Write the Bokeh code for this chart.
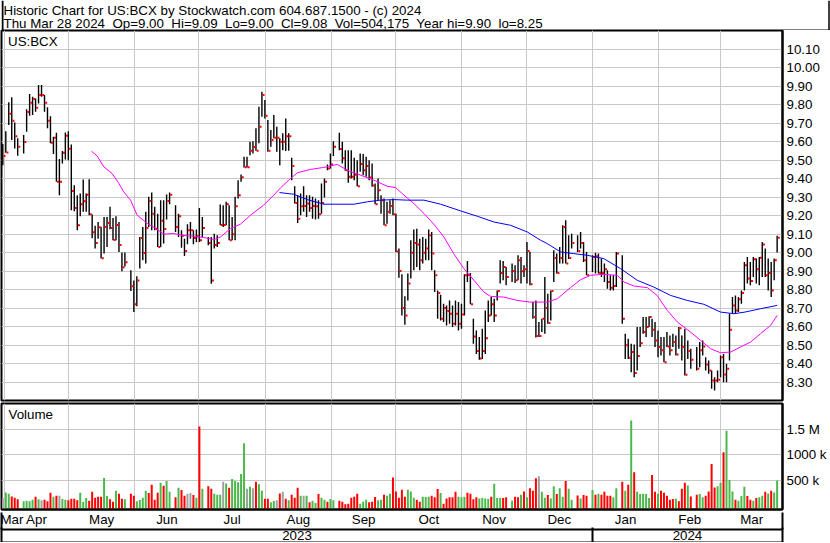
import pandas as pd
from bokeh.plotting import figure
from bokeh.layouts import column
from bokeh.models import ColumnDataSource, FixedTicker, LinearAxis, Range1d, Label, Span
from bokeh.transform import dodge
from bokeh.embed import file_html
from bokeh.resources import INLINE

# ---------------------------------------------------------------- data
FIRST_DAY = "2023-03-30"
LAST_DAY = "2024-03-28"
HEADER_1 = "Historic Chart for US:BCX by Stockwatch.com 604.687.1500 - (c) 2024"
HEADER_2 = "Thu Mar 28 2024  Op=9.00  Hi=9.09  Lo=9.00  Cl=9.08  Vol=504,175  Year hi=9.90  lo=8.25"
SYMBOL = "US:BCX"

PRICE_TICKS = [8.30, 8.40, 8.50, 8.60, 8.70, 8.80, 8.90, 9.00, 9.10, 9.20,
               9.30, 9.40, 9.50, 9.60, 9.70, 9.80, 9.90, 10.00, 10.10]
VOLUME_TICKS = [500000, 1000000, 1500000]
VOLUME_TICK_LABELS = ["500 k", "1000 k", "1.5 M"]
MONTH_NAMES = ["Jan", "Feb", "Mar", "Apr", "May", "Jun",
               "Jul", "Aug", "Sep", "Oct", "Nov", "Dec"]

# one entry per weekday from FIRST_DAY to LAST_DAY, None = market holiday
HIGH = [
    9.586, 9.656, 9.812, 9.839, 9.703, 9.617, None, 9.635, 9.775, 9.857,
    9.842, 9.833, 9.905, 9.905, 9.851, 9.785, 9.737, 9.626, 9.647, 9.505,
    9.548, 9.649, 9.656, 9.584, 9.364, 9.310, 9.319, 9.395, 9.319, 9.396,
    9.205, 9.144, 9.165, 9.138, 9.192, 9.192, 9.247, 9.187, 9.196, 9.165,
    9.000, 9.000, None, 8.904, 8.849, 8.871, 9.084, 9.138, 9.220, 9.301,
    9.324, 9.247, 9.210, 9.283, 9.283, 9.313, 9.324, None, 9.256, 9.210,
    9.120, 9.075, 9.153, 9.165, 9.120, 9.124, 9.241, 9.192, None, 9.084,
    9.084, 9.102, 9.093, 9.259, 9.256, 9.274, 9.256, 9.192, 9.301, 9.391,
    9.422, 9.517, 9.517, 9.599, 9.602, 9.671, 9.788, 9.869, 9.824, 9.716,
    9.662, 9.743, 9.680, 9.617, 9.644, 9.725, 9.644, 9.512, 9.358, 9.310,
    9.319, 9.358, 9.310, 9.310, 9.301, 9.292, 9.283, 9.373, 9.400, 9.476,
    9.535, 9.602, None, 9.647, 9.599, 9.553, 9.553, 9.553, 9.512, 9.499,
    9.535, 9.532, 9.517, 9.499, 9.481, 9.373, 9.400, 9.310, 9.292, 9.274,
    9.283, 9.292, 9.210, 9.021, 8.882, 8.763, 8.886, 9.066, 9.124, 9.129,
    9.075, 9.084, 9.075, 9.124, 9.111, 8.904, 8.795, 8.772, 8.723, 8.714,
    8.741, 8.714, 8.741, 8.732, 8.723, 8.882, 8.954, 8.889, 8.642, 8.579,
    8.543, 8.588, 8.687, 8.741, 8.759, 8.750, 8.795, 8.958, 8.954, 8.922,
    None, 8.940, 8.931, 8.985, 8.976, 8.931, 9.057, 9.003, 8.732, 8.740,
    8.624, 8.642, 8.868, 8.777, 8.795, 9.012, 8.994, 9.030, 9.147, 9.175,
    9.093, 9.102, None, 9.093, 9.111, 9.057, 9.003, None, 8.985, 8.998,
    8.994, 8.967, 8.940, 8.904, 8.877, 8.877, 9.003, None, 8.985, 8.561,
    8.534, 8.507, 8.503, 8.597, 8.597, 8.651, 8.651, 8.655, 8.642, 8.624,
    8.579, 8.543, 8.543, 8.570, 8.552, 8.561, 8.552, 8.597, 8.552, 8.588,
    8.525, 8.480, None, 8.489, 8.516, 8.525, 8.434, 8.416, 8.362, 8.326,
    8.362, 8.443, 8.452, 8.398, 8.669, 8.759, 8.768, 8.759, 8.795, 8.949,
    8.976, 8.949, 8.976, 8.967, 8.976, 9.057, 9.021, 8.967, 8.949, 8.967, 9.090,
]
LOW = [
    9.472, 9.539, 9.689, 9.608, 9.562, 9.523, None, 9.535, 9.653, 9.739,
    9.743, 9.761, 9.806, 9.842, 9.761, 9.671, 9.590, 9.532, 9.382, 9.310,
    9.481, 9.503, 9.499, 9.228, 9.223, 9.120, 9.196, 9.220, 9.220, 9.202,
    9.077, 9.021, 9.075, 8.967, 8.994, 9.030, 9.126, 9.066, 9.066, 9.003,
    8.898, 8.925, None, 8.792, 8.678, 8.709, 8.913, 8.958, 8.940, 9.138,
    9.120, 9.120, 9.030, 9.030, 9.048, 9.178, 9.261, None, 9.111, 9.084,
    9.026, 8.981, 9.044, 9.075, 9.044, 9.055, 9.057, 9.084, None, 9.039,
    8.831, 9.021, 9.030, 9.147, 9.138, 9.147, 9.066, 9.066, 9.066, 9.292,
    9.382, 9.460, 9.460, 9.526, 9.535, 9.550, 9.590, 9.734, 9.725, 9.544,
    9.571, 9.617, 9.544, 9.472, 9.553, 9.548, 9.550, 9.391, 9.265, 9.160,
    9.201, 9.220, 9.192, 9.220, 9.183, 9.178, 9.183, 9.210, 9.297, 9.445,
    9.454, 9.521, None, 9.553, 9.481, 9.442, 9.377, 9.400, 9.391, 9.358,
    9.436, 9.418, 9.409, 9.391, 9.355, 9.261, 9.283, 9.210, 9.147, 9.156,
    9.210, 9.201, 9.003, 8.864, 8.660, 8.610, 8.741, 8.859, 8.904, 8.922,
    8.904, 8.940, 8.958, 8.958, 8.904, 8.786, 8.642, 8.633, 8.624, 8.606,
    8.615, 8.597, 8.606, 8.579, 8.588, 8.660, 8.841, 8.720, 8.507, 8.452,
    8.420, 8.425, 8.452, 8.624, 8.660, 8.624, 8.741, 8.832, 8.850, 8.823,
    None, 8.841, 8.835, 8.850, 8.832, 8.868, 8.832, 8.823, 8.642, 8.540,
    8.543, 8.570, 8.561, 8.615, 8.633, 8.841, 8.886, 8.940, 8.940, 8.940,
    8.965, 9.021, None, 9.003, 9.021, 8.949, 8.877, None, 8.895, 8.886,
    8.886, 8.868, 8.841, 8.804, 8.795, 8.795, 8.813, None, 8.615, 8.425,
    8.425, 8.353, 8.326, 8.362, 8.489, 8.561, 8.543, 8.597, 8.543, 8.489,
    8.434, 8.443, 8.407, 8.489, 8.443, 8.489, 8.443, 8.480, 8.416, 8.335,
    8.425, 8.371, None, 8.362, 8.380, 8.443, 8.362, 8.344, 8.263, 8.254,
    8.299, 8.326, 8.299, 8.299, 8.416, 8.669, 8.669, 8.678, 8.723, 8.795,
    8.832, 8.823, 8.868, 8.832, 8.823, 8.868, 8.868, 8.795, 8.759, 8.850, 9.000,
]
CLOSE = [
    9.521, 9.540, 9.750, 9.712, 9.629, 9.571, None, 9.597, 9.759, 9.810,
    9.830, 9.783, 9.851, 9.851, 9.810, 9.712, 9.593, 9.620, 9.382, 9.382,
    9.539, 9.631, 9.561, 9.333, 9.241, 9.147, 9.261, 9.277, 9.312, 9.207,
    9.109, 9.052, 9.136, 8.969, 9.138, 9.160, 9.133, 9.068, 9.149, 9.041,
    8.920, 8.947, None, 8.817, 8.720, 8.849, 9.079, 8.997, 9.133, 9.279,
    9.209, 9.129, 9.030, 9.171, 9.127, 9.279, 9.312, None, 9.138, 9.196,
    9.091, 9.008, 9.120, 9.120, 9.079, 9.088, 9.066, 9.133, None, 9.052,
    8.849, 9.041, 9.052, 9.149, 9.149, 9.261, 9.066, 9.099, 9.250, 9.310,
    9.407, 9.461, 9.461, 9.550, 9.570, 9.550, 9.680, 9.851, 9.739, 9.550,
    9.608, 9.620, 9.620, 9.599, 9.599, 9.629, 9.629, 9.467, 9.268, 9.183,
    9.250, 9.252, 9.265, 9.241, 9.252, 9.250, 9.207, 9.268, 9.382, 9.454,
    9.476, 9.571, None, 9.559, 9.510, 9.445, 9.409, 9.409, 9.420, 9.358,
    9.478, 9.445, 9.467, 9.405, 9.362, 9.261, 9.337, 9.283, 9.147, 9.220,
    9.252, 9.207, 9.006, 8.900, 8.700, 8.660, 8.832, 8.998, 9.052, 9.043,
    8.958, 8.998, 9.021, 9.093, 8.994, 8.877, 8.781, 8.642, 8.700, 8.684,
    8.669, 8.615, 8.669, 8.615, 8.665, 8.877, 8.878, 8.720, 8.546, 8.467,
    8.427, 8.467, 8.537, 8.660, 8.720, 8.660, 8.792, 8.889, 8.922, 8.868,
    None, 8.900, 8.850, 8.958, 8.898, 8.909, 9.008, 8.828, 8.651, 8.548,
    8.548, 8.642, 8.700, 8.619, 8.792, 8.970, 8.889, 8.970, 9.138, 8.940,
    8.970, 9.052, None, 9.008, 9.052, 8.958, 8.877, None, 8.976, 8.980,
    8.889, 8.889, 8.909, 8.841, 8.810, 8.819, 8.994, None, 8.642, 8.498,
    8.431, 8.462, 8.348, 8.440, 8.510, 8.570, 8.597, 8.651, 8.582, 8.525,
    8.489, 8.471, 8.407, 8.492, 8.471, 8.516, 8.449, 8.591, 8.489, 8.339,
    8.467, 8.420, None, 8.371, 8.471, 8.492, 8.395, 8.362, 8.308, 8.308,
    8.312, 8.434, 8.341, 8.371, 8.582, 8.714, 8.687, 8.747, 8.781, 8.931,
    8.859, 8.846, 8.963, 8.909, 8.972, 9.043, 8.877, 8.889, 8.795, 8.958, 9.080,
]
VOLUME_K = [
    163, 272, 246, 195, 169, 137, None, 99, 112, 99,
    131, 188, 137, 118, 131, 99, 265, 188, 208, 208,
    144, 131, 118, 150, 150, 118, 265, 92, 163, 112,
    285, 169, 188, 188, 554, 201, 137, 92, 304, 246,
    150, 137, None, 246, 208, 99, 124, 169, 304, 259,
    419, 131, 265, 458, 400, 496, 285, None, 176, 362,
    317, 208, 246, 259, 221, 169, 1553, 342, None, 394,
    342, 246, 227, 227, 477, 445, 362, 535, 496, 470,
    631, 1226, 342, 381, 355, 477, 432, 304, 150, 150,
    79, 105, 118, 253, 285, 150, 118, 227, 169, 362,
    208, 208, 208, 79, 112, 67, 240, 169, 131, 92,
    144, 118, None, 112, 92, 41, 54, 169, 188, 246,
    54, 92, 131, 79, 92, 182, 118, 131, 227, 208,
    246, 560, 291, 169, 323, 188, 323, 291, 169, 131,
    92, 188, 182, 188, 208, 176, 336, 259, 54, 156,
    176, 176, 285, 188, 176, 188, 265, 246, 137, 176,
    156, 163, 156, 150, 188, 438, 163, 163, 163, 176,
    None, 112, 188, 176, 227, 291, 176, 355, 304, 547,
    586, 285, 169, 221, 156, 394, 240, 355, 188, 496,
    342, 131, None, 214, 156, 221, 208, None, 317, 227,
    246, 227, 285, 208, 208, 176, 355, None, 477, 304,
    419, 1669, 665, 285, 240, 246, 240, 163, 612, 285,
    246, 304, 265, 208, 131, 144, 150, 99, 342, 458,
    406, 195, None, 227, 240, 176, 208, 291, 823, 368,
    394, 458, 1054, 1472, 515, 291, 131, 112, 201, 381,
    201, 131, 112, 163, 176, 208, 285, 253, 304, 272, 504.175,
]
# g = up day, r = down day, n = unchanged, - = holiday
DIRECTION = "".join([
    "nggrrr-ggg", "grgnrrrgrn", "ggrrrrgggr", "rrrrggrrgr", "rg-rrggggr",
    "rrrgrgg-rg", "rrnnrgrg-r", "rgggngrggg", "ggngnrggrr", "ggnrnrgrrr",
    "gngrggrggr", "gg-rrrrrrr", "gggrrrggrg", "grrrrrgggr", "rgggrrrgrr",
    "rrrgggrrrr", "ggggrgggrr", "-grrgrgrrr", "nggrggrggr", "gg-rgrr-gr",
    "grrrrgg-rg", "rgrgggggrr", "grrrrrgrrr", "gr-rggrrrr", "ggrgggrggg",
    "rrgrggrgrgg",
])

# moving averages: (weekday slot, price)
MA_SHORT_SLOT = [29.8, 31.7, 33.9, 36.7, 39.0, 40.6, 42.9, 45.1, 48.5, 51.3,
                 54.1, 57.4, 60.2, 64.1, 67.5, 70.9, 73.1, 76.5, 79.8, 83.2,
                 87.5, 91.0, 93.3, 96.6, 98.9, 103.3, 107.8, 112.3, 115.6, 120.1,
                 124.6, 129.1, 131.9, 134.7, 138.0, 141.4, 144.7, 148.1, 151.4, 154.8,
                 158.2, 161.5, 163.8, 168.2, 172.7, 177.2, 182.8, 186.2, 190.6, 194.0,
                 197.4, 201.8, 206.3, 208.5, 211.9, 216.4, 219.7, 223.1, 226.5, 230.9,
                 234.3, 237.6, 241.0, 244.4, 247.7, 251.1, 254.4, 257.8, 260.0]
MA_SHORT = [9.548, 9.521, 9.463, 9.427, 9.373, 9.328, 9.283, 9.202, 9.157, 9.130,
            9.099, 9.103, 9.093, 9.088, 9.081, 9.070, 9.084, 9.130, 9.153, 9.202,
            9.255, 9.310, 9.350, 9.400, 9.431, 9.449, 9.460, 9.476, 9.445, 9.418,
            9.391, 9.358, 9.351, 9.310, 9.265, 9.211, 9.153, 9.084, 8.994, 8.913,
            8.850, 8.786, 8.763, 8.759, 8.741, 8.732, 8.732, 8.750, 8.810, 8.853,
            8.877, 8.882, 8.877, 8.841, 8.819, 8.810, 8.768, 8.687, 8.624, 8.570,
            8.525, 8.480, 8.458, 8.462, 8.489, 8.516, 8.561, 8.606, 8.660]
MA_LONG_SLOT = [92.9, 97.7, 102.2, 107.8, 117.9, 122.4, 126.8, 131.3, 135.8, 141.4,
                147.0, 153.7, 159.3, 164.9, 170.5, 176.1, 180.6, 182.8, 187.3, 191.7,
                196.2, 201.8, 207.4, 213.0, 218.6, 224.2, 229.8, 235.4, 241.0, 245.5,
                249.2, 254.4, 260.0]
MA_LONG = [9.324, 9.315, 9.286, 9.261, 9.261, 9.274, 9.283, 9.286, 9.283, 9.283,
           9.261, 9.225, 9.196, 9.165, 9.147, 9.111, 9.066, 9.048, 9.003, 8.994,
           8.985, 8.967, 8.913, 8.850, 8.813, 8.768, 8.741, 8.720, 8.678, 8.669,
           8.678, 8.696, 8.714]

# ---------------------------------------------------------------- styling / layout
FONT = "Liberation Sans"
FS = "13.33px"
GRID = "#c8c8c8"
BAR_COLORS = {"g": "#4cb84c", "r": "#ff0000", "n": "#a0a0a0"}
X_LO, X_HI = -0.44, 261.8          # visible weekday slots
P_LO, P_HI = 8.20, 10.20
V_LO, V_HI = -60000, 2000000
SLOT_PER_DAY, SLOT_SHIFT = 0.718, -0.907   # calendar -> slot (month grid)
FRAME_W = 781
RIGHT_W = 48

days = pd.bdate_range(FIRST_DAY, LAST_DAY)
assert len(days) == len(HIGH) == len(LOW) == len(CLOSE) == len(VOLUME_K) == len(DIRECTION)
keep = [i for i in range(len(days)) if HIGH[i] is not None]
src = ColumnDataSource(dict(
    x=keep,
    high=[HIGH[i] for i in keep],
    low=[LOW[i] for i in keep],
    close=[CLOSE[i] for i in keep],
    vol=[VOLUME_K[i] * 1000 for i in keep],
    color=[BAR_COLORS[DIRECTION[i]] for i in keep],
))

t0 = pd.Timestamp(FIRST_DAY)
def slot(ts):
    return SLOT_PER_DAY * (ts - t0).days + SLOT_SHIFT

month_starts = pd.date_range("2023-03-01", "2024-04-01", freq="MS")
grid_x = [round(slot(m), 3) for m in month_starts if X_LO < slot(m) < X_HI]
month_pos, month_lab = [], {}
for a_ts, b_ts in zip(month_starts[:-1], month_starts[1:]):
    a, b = max(slot(a_ts), X_LO), min(slot(b_ts), X_HI)
    if b > a:
        c = round((a + b) / 2, 3)
        month_pos.append(c)
        month_lab[c] = MONTH_NAMES[a_ts.month - 1]
jan1 = round(slot(pd.Timestamp("2024-01-01")), 3)
y23, y24 = round((X_LO + jan1) / 2, 3), round((jan1 + X_HI) / 2, 3)
edge_l, edge_r = round(X_LO + 0.05, 3), round(X_HI - 0.05, 3)


def style_axis(ax, standoff):
    ax.axis_line_color = "black"
    ax.axis_line_width = 2
    ax.major_tick_out = 0
    ax.major_tick_in = 0
    ax.minor_tick_out = 0
    ax.minor_tick_in = 0
    ax.minor_tick_line_color = "black"
    ax.minor_tick_line_width = 2
    ax.major_label_standoff = standoff
    ax.major_label_text_font = FONT
    ax.major_label_text_font_size = FS
    ax.major_label_text_color = "black"


def text_label(x, y, txt, **kw):
    # keep runs of two spaces visible in SVG text
    return Label(x=x, y=y, text=txt.replace("  ", "\u00a0 "), text_font=FONT,
                 text_font_size=FS, text_color="black", text_baseline="top", **kw)


# ---------------- header strip
hdr = figure(frame_width=FRAME_W + 1 + RIGHT_W, frame_height=30,
             x_range=Range1d(0, FRAME_W + 1 + RIGHT_W), y_range=Range1d(30, 0),
             x_axis_location=None, y_axis_location=None,
             toolbar_location=None, output_backend="svg", min_border=0)
hdr.outline_line_color = None
hdr.grid.visible = False
hdr.add_layout(text_label(2, 2.3, HEADER_1))
hdr.add_layout(text_label(2, 15.8, HEADER_2))
hdr.add_layout(Span(location=1, dimension="height", line_color="black", line_width=2))
hdr.add_layout(Span(location=827.5, dimension="height", line_color="black", line_width=1.5))
hdr.add_layout(Span(location=29.5, dimension="width", line_color="black", line_width=1))

# ---------------- price panel
p = figure(frame_width=FRAME_W, frame_height=370,
           x_range=Range1d(X_LO, X_HI), y_range=Range1d(P_LO, P_HI),
           x_axis_location=None, y_axis_location=None,
           toolbar_location=None, output_backend="svg",
           min_border_left=1, min_border_right=RIGHT_W, min_border_top=0, min_border_bottom=2)
p.outline_line_color = "black"
p.outline_line_width = 2
p.outline_line_alpha = 1
p.xgrid.ticker = FixedTicker(ticks=grid_x)
p.ygrid.ticker = FixedTicker(ticks=PRICE_TICKS)
p.grid.grid_line_color = GRID

pax = LinearAxis(ticker=FixedTicker(ticks=PRICE_TICKS),
                 major_label_overrides={t: f"{t:.2f}" for t in PRICE_TICKS})
style_axis(pax, 4)
p.add_layout(pax, "right")

p.segment(x0="x", y0="low", x1="x", y1="high", source=src, line_color="black", line_width=1.4)
p.rect(x=dodge("x", 0.55), y="close", width=0.67, height=2, height_units="screen",
       source=src, fill_color="#ff0000", line_color=None)
p.line(MA_SHORT_SLOT, MA_SHORT, line_color="#ff00ff", line_width=1)
p.line(MA_LONG_SLOT, MA_LONG, line_color="#0000ff", line_width=1)
p.add_layout(text_label(X_LO, P_HI, SYMBOL, x_offset=6.5, y_offset=-3.3))

# ---------------- volume panel
v = figure(frame_width=FRAME_W, frame_height=106,
           x_range=p.x_range, y_range=Range1d(V_LO, V_HI),
           x_axis_location=None, y_axis_location=None,
           toolbar_location=None, output_backend="svg",
           min_border_left=1, min_border_right=RIGHT_W, min_border_top=1, min_border_bottom=0)
v.outline_line_color = "black"
v.outline_line_width = 2
v.outline_line_alpha = 1
v.xgrid.ticker = FixedTicker(ticks=grid_x)
v.ygrid.ticker = FixedTicker(ticks=VOLUME_TICKS)
v.grid.grid_line_color = GRID

vax = LinearAxis(ticker=FixedTicker(ticks=VOLUME_TICKS),
                 major_label_overrides=dict(zip(VOLUME_TICKS, VOLUME_TICK_LABELS)))
style_axis(vax, 4)
v.add_layout(vax, "right")

v.vbar(x="x", top="vol", bottom=V_LO, width=0.67, source=src,
       fill_color="color", line_color=None)
v.add_layout(text_label(X_LO, V_HI, "Volume", x_offset=7, y_offset=-3.2))

# month row
max_ = LinearAxis(ticker=FixedTicker(ticks=month_pos), major_label_overrides=month_lab)
style_axis(max_, 2)
v.add_layout(max_, "below")

# year row (its minor ticks close the month row at both ends)
yax = LinearAxis(ticker=FixedTicker(ticks=[y23, y24], minor_ticks=[edge_l, edge_r]),
                 major_label_overrides={y23: "2023", y24: "2024"})
style_axis(yax, 1)
yax.minor_tick_in = 17
v.add_layout(yax, "below")

# bottom border (its minor ticks split the year row)
bax = LinearAxis(ticker=FixedTicker(ticks=[], minor_ticks=[edge_l, jan1, edge_r]))
style_axis(bax, 0)
bax.minor_tick_in = 15
v.add_layout(bax, "below")

layout = column(hdr, p, v, spacing=0)
open("out.html", "w").write(file_html(layout, INLINE, "US:BCX historic chart"))
